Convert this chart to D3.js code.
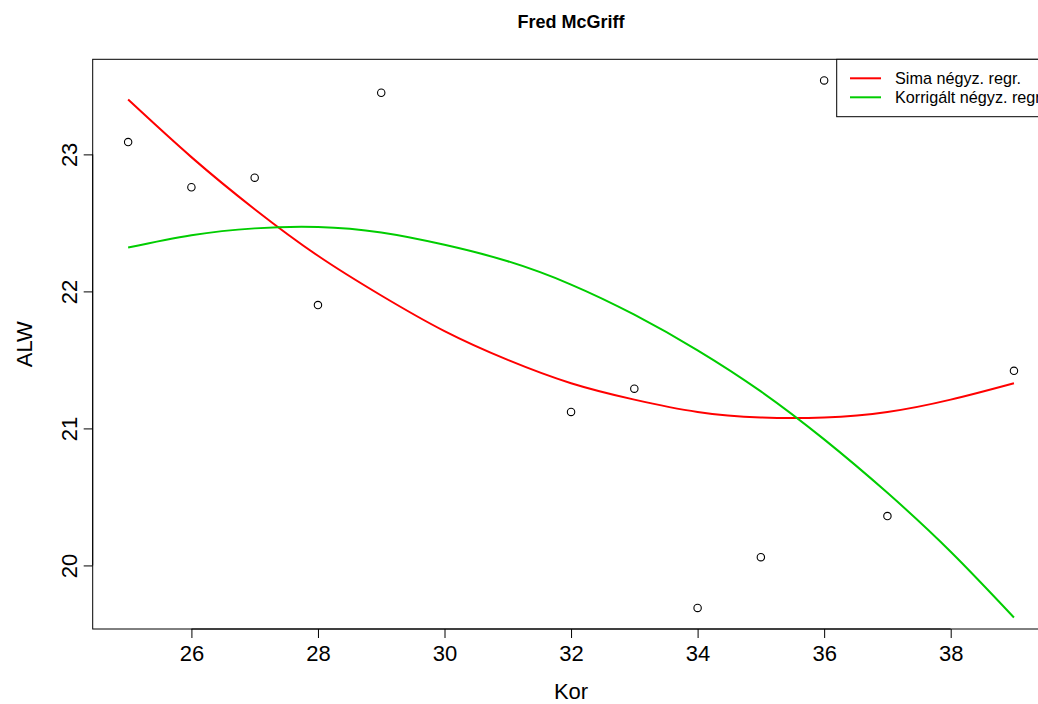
<!DOCTYPE html>
<html>
<head>
<meta charset="utf-8">
<script src="https://cdn.jsdelivr.net/npm/d3@7/dist/d3.min.js"></script>
<style>
  html, body { margin: 0; padding: 0; background: #fff; }
  svg { display: block; font-family: "Liberation Sans", Arial, sans-serif; }
</style>
</head>
<body>
<div id="chart"></div>
<script>
// Observed seasons: age (Kor) and ALW value
const ages = [25, 26, 27, 28, 29, 32, 33, 34, 35, 36, 37, 39];
const alw  = [23.09, 22.76, 22.83, 21.90, 23.45, 21.12, 21.29, 19.69, 20.06, 23.54, 20.36, 21.42];

// Fitted curves, sampled at each age
const curveAges = [25, 26, 27, 28, 29, 30, 31, 32, 33, 34, 35, 36, 37, 38, 39];
const simpleFit = [23.40, 22.98, 22.60, 22.26, 21.97, 21.71, 21.50, 21.33, 21.21, 21.12, 21.08, 21.08, 21.12, 21.21, 21.33];
const correctedFit = [22.32, 22.41, 22.46, 22.47, 22.43, 22.34, 22.22, 22.05, 21.83, 21.57, 21.27, 20.92, 20.53, 20.10, 19.62];

const xTicks = [26, 28, 30, 32, 34, 36, 38];
const yTicks = [20, 21, 22, 23];
const legendLabels = ["Sima négyz. regr.", "Korrigált négyz. regr."];
const legendColors = ["#ff0000", "#00cd00"];
const titleText = "Fred McGriff";
const xLabel = "Kor";
const yLabel = "ALW";

const W = 1038, H = 704;
const plot = { left: 92.7, right: 1049.4, top: 59.3, bottom: 629 };

const svg = d3.select("#chart").append("svg")
  .attr("width", W).attr("height", H);

// Axis limits padded by 4% of the data range on each side
function padded(ext) {
  const d = (ext[1] - ext[0]) * 0.04;
  return [ext[0] - d, ext[1] + d];
}
const x = d3.scaleLinear().domain(padded(d3.extent(ages))).range([plot.left, plot.right]);
const y = d3.scaleLinear().domain(padded(d3.extent(alw))).range([plot.bottom, plot.top]);

// Curves
const line = d3.line()
  .x((d, i) => x(curveAges[i]))
  .y(d => y(d))
  .curve(d3.curveNatural);

svg.append("clipPath").attr("id", "plotclip")
  .append("rect").attr("x", plot.left).attr("y", plot.top)
  .attr("width", plot.right - plot.left).attr("height", plot.bottom - plot.top);

const g = svg.append("g").attr("clip-path", "url(#plotclip)");
g.append("path").datum(simpleFit).attr("d", line)
  .attr("fill", "none").attr("stroke", legendColors[0]).attr("stroke-width", 2);
g.append("path").datum(correctedFit).attr("d", line)
  .attr("fill", "none").attr("stroke", legendColors[1]).attr("stroke-width", 2);

// Points
g.selectAll("circle.pt").data(ages).enter().append("circle")
  .attr("class", "pt")
  .attr("cx", d => x(d))
  .attr("cy", (d, i) => y(alw[i]))
  .attr("r", 3.7)
  .attr("fill", "none").attr("stroke", "#000").attr("stroke-width", 1.1);

// Plot frame
svg.append("rect")
  .attr("x", plot.left).attr("y", plot.top)
  .attr("width", plot.right - plot.left).attr("height", plot.bottom - plot.top)
  .attr("fill", "none").attr("stroke", "#000").attr("stroke-width", 1);

// Axes
const xAxis = d3.axisBottom(x).tickValues(xTicks).tickSize(9).tickPadding(7).tickFormat(d3.format("d"));
const gx = svg.append("g").attr("transform", `translate(0,${plot.bottom})`).call(xAxis);
gx.select(".domain").attr("d", `M${x(xTicks[0])},0H${x(xTicks[xTicks.length - 1])}`);
gx.selectAll("text").attr("font-size", 22).attr("fill", "#000").attr("font-family", "Liberation Sans, Arial, sans-serif");
gx.selectAll("line").attr("stroke", "#000");

const yAxis = d3.axisLeft(y).tickValues(yTicks).tickSize(9).tickFormat(d3.format("d"));
const gy = svg.append("g").attr("transform", `translate(${plot.left},0)`).call(yAxis);
gy.select(".domain").attr("d", `M0,${y(yTicks[0])}V${y(yTicks[yTicks.length - 1])}`);
gy.selectAll("line").attr("stroke", "#000");
gy.selectAll("text")
  .attr("x", null).attr("dy", null)
  .attr("transform", "translate(-16,0) rotate(-90)")
  .attr("text-anchor", "middle")
  .attr("font-size", 22).attr("fill", "#000").attr("font-family", "Liberation Sans, Arial, sans-serif");

// Titles
svg.append("text")
  .attr("x", (plot.left + plot.right) / 2).attr("y", 27.5)
  .attr("text-anchor", "middle").attr("font-weight", "bold").attr("font-size", 18)
  .text(titleText);
svg.append("text")
  .attr("x", (plot.left + plot.right) / 2).attr("y", 699)
  .attr("text-anchor", "middle").attr("font-size", 22)
  .text(xLabel);
svg.append("text")
  .attr("transform", `translate(32,${(plot.top + plot.bottom) / 2}) rotate(-90)`)
  .attr("text-anchor", "middle").attr("font-size", 22)
  .text(yLabel);

// Legend (top right)
const leg = svg.append("g");
leg.append("rect")
  .attr("x", 836.7).attr("y", plot.top)
  .attr("width", plot.right - 836.7).attr("height", 57.4)
  .attr("fill", "#fff").attr("stroke", "#000").attr("stroke-width", 1);
legendLabels.forEach((lab, i) => {
  const ly = 78.3 + i * 19;
  leg.append("line").attr("x1", 850).attr("x2", 881).attr("y1", ly).attr("y2", ly)
    .attr("stroke", legendColors[i]).attr("stroke-width", 2);
  leg.append("text").attr("x", 895).attr("y", ly).attr("dy", "0.35em")
    .attr("font-size", 16.2).text(lab);
});
</script>
</body>
</html>
